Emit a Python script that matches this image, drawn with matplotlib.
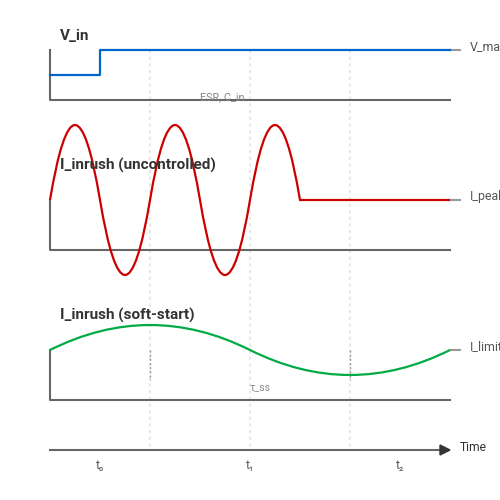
import numpy as np
import matplotlib
matplotlib.use("Agg")
import matplotlib.pyplot as plt
from matplotlib.path import Path
from matplotlib.patches import PathPatch, Polygon

plt.rcParams['font.family'] = ['Roboto', 'DejaVu Sans']

# canvas units are pixels of the 500x500 diagram, y pointing down
# V_in step
vin_x = [50, 100, 100, 450]
vin_y = [75, 75, 50, 50]

# uncontrolled inrush: quadratic bezier nodes (x, y) and controls
red_nodes_x = [50, 100, 150, 200, 250, 300]
red_ctrl_y = [50, 350, 50, 350, 50]
red_base = 200
red_flat_end = 450

# soft-start inrush: quadratic bezier
green_nodes_x = [50, 250, 450]
green_ctrl_x = [150, 350]
green_ctrl_y = [300, 400]
green_base = 350

# panels: (top of y-axis, baseline)
panels = [(50, 100), (200, 250), (350, 400)]
grid_x = [150, 250, 350]
marker_x = [150, 350]

titles = ["V_in", "I_inrush (uncontrolled)", "I_inrush (soft-start)"]
title_pos = [(60, 40), (60, 170), (60, 320)]
levels = ["V_max", "I_peak", "I_limit"]
level_y = [50, 200, 350]
tick_x = [100, 250, 400]
tick_labels = ["t\u2080", "t\u2081", "t\u2082"]

AX = '#666666'
TXT = '#333333'

fig = plt.figure(figsize=(5, 5), dpi=100)
ax = fig.add_axes([0, 0, 1, 1])
ax.set_xlim(0, 500)
ax.set_ylim(500, 0)
ax.axis('off')

# background dotted grid
for gx in grid_x:
    ax.plot([gx, gx], [50, 450], color='#e4e4e4', lw=1.2, ls=(0, (2, 2)), zorder=1)

# panel axes
for top, base in panels:
    ax.plot([50, 50, 450], [top, base, base], color=AX, lw=1.5, zorder=2)

# level ticks at the right end
for ly in level_y:
    ax.plot([450, 460], [ly, ly], color='#999999', lw=1.5, zorder=2)

# V_in
ax.plot(vin_x, vin_y, color='#0066cc', lw=1.6, zorder=3)

# red curve
verts = [(red_nodes_x[0], red_base)]
codes = [Path.MOVETO]
for i, cy in enumerate(red_ctrl_y):
    cx = (red_nodes_x[i] + red_nodes_x[i + 1]) / 2
    verts += [(cx, cy), (red_nodes_x[i + 1], red_base)]
    codes += [Path.CURVE3, Path.CURVE3]
verts.append((red_flat_end, red_base))
codes.append(Path.LINETO)
ax.add_patch(PathPatch(Path(verts, codes), fill=False, edgecolor='#cc0000', lw=1.6, zorder=3))

# green curve
verts = [(green_nodes_x[0], green_base)]
codes = [Path.MOVETO]
for i in range(len(green_ctrl_x)):
    verts += [(green_ctrl_x[i], green_ctrl_y[i]), (green_nodes_x[i + 1], green_base)]
    codes += [Path.CURVE3, Path.CURVE3]
ax.add_patch(PathPatch(Path(verts, codes), fill=False, edgecolor='#00aa44', lw=1.6, zorder=3))

# soft-start markers
for mx in marker_x:
    ax.plot([mx, mx], [350, 380], color='#999999', lw=1, ls=(0, (1.5, 1.5)), zorder=2)

# time axis
ax.plot([50, 442], [450, 450], color=AX, lw=1.5, zorder=2)
ax.add_patch(Polygon([(440, 445), (450, 450), (440, 455)], closed=True, color='#333333', zorder=3))

# texts
for t, (tx, ty) in zip(titles, title_pos):
    ax.text(tx, ty, t, fontsize=11, fontweight='bold', color=TXT, ha='left', va='baseline')
for t, ly in zip(levels, level_y):
    ax.text(470, ly, t, fontsize=8.9, color='#555555', ha='left', va='baseline')
ax.text(460, 451, "Time", fontsize=8.7, color=TXT, ha='left', va='baseline')
for t, tx in zip(tick_labels, tick_x):
    ax.text(tx, 469, t, fontsize=8.6, color='#555555', ha='center', va='baseline')
ax.text(200, 100, "ESR, C_in", fontsize=7.8, color='#888888', ha='left', va='baseline')
ax.text(250, 390, "\u03c4_ss", fontsize=7.6, color='#888888', ha='left', va='baseline')

fig.savefig('out.png', dpi=100)
